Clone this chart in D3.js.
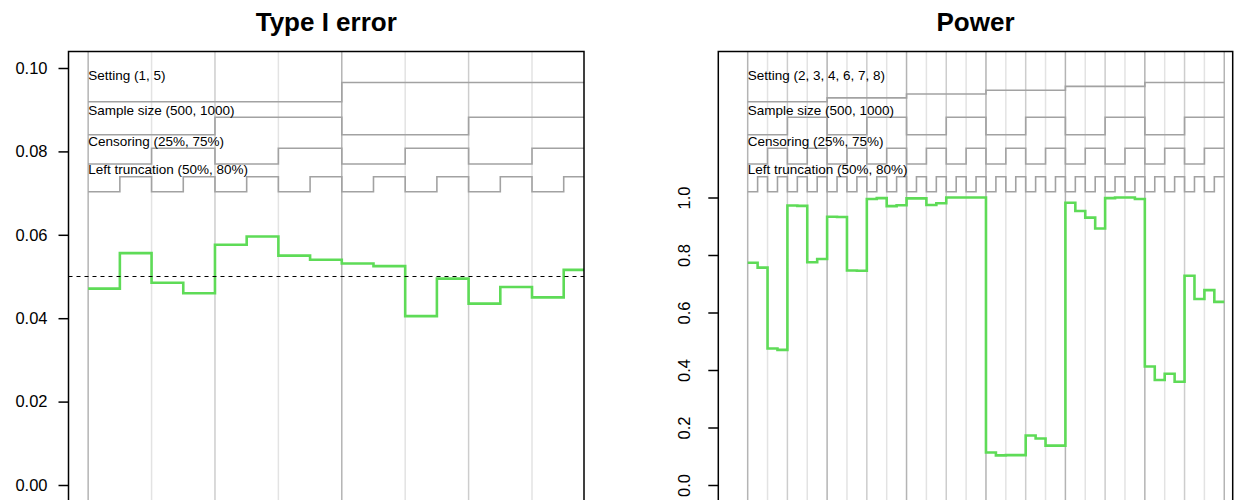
<!DOCTYPE html>
<html>
<head>
<meta charset="utf-8">
<script src="https://cdn.jsdelivr.net/npm/d3@7"></script>
<style>
  body { margin: 0; background: #fff; }
  svg { display: block; }
  text { font-family: "Liberation Sans", Arial, Helvetica, sans-serif; fill: #000; }
</style>
</head>
<body>
<svg id="chart" width="1235" height="500"></svg>
<script>
// Simulation factors, outermost to innermost
const settingsTypeI = ["1", "5"];
const settingsPower = ["2", "3", "4", "6", "7", "8"];
const sampleSizes = ["500", "1000"];
const censoring = ["25%", "75%"];
const leftTruncation = ["50%", "80%"];
const factorNames = ["Setting", "Sample size", "Censoring", "Left truncation"];

// Rejection rates per scenario (nested order of the factors above)
const typeIError = [
  0.0471, 0.0556, 0.0485, 0.0460, 0.0576, 0.0596, 0.0550, 0.0540,
  0.0531, 0.0525, 0.0405, 0.0495, 0.0435, 0.0475, 0.0450, 0.0516
];
const power = [
  0.773, 0.756, 0.475, 0.470, 0.972, 0.971, 0.775, 0.786,
  0.933, 0.932, 0.746, 0.745, 0.995, 0.998, 0.970, 0.973,
  0.997, 0.997, 0.974, 0.980, 1.000, 1.000, 1.000, 1.000,
  0.113, 0.103, 0.104, 0.104, 0.172, 0.162, 0.137, 0.137,
  0.982, 0.953, 0.930, 0.892, 0.998, 1.000, 1.000, 0.995,
  0.412, 0.365, 0.387, 0.359, 0.728, 0.647, 0.678, 0.637
];
const typeITicks = [0, 0.02, 0.04, 0.06, 0.08, 0.10];
const powerTicks = [0, 0.2, 0.4, 0.6, 0.8, 1.0];
const nominalLevel = 0.05;

// ---- layout ----
const plotTop = 51.5, plotBottom = 502;
const legendRows = [            // pixel band of each factor's step line
  { top: 82.5, bottom: 101.7 },
  { top: 117.3, bottom: 134.7 },
  { top: 148.3, bottom: 164 },
  { top: 176.7, bottom: 191.7 }
];
const gridColours = ["#b4b4b4", "#cdcdcd", "#e3e3e3"];
const lineGreen = "#5edb57";

const svg = d3.select("#chart");

function drawPanel(cfg) {
  const factors = [cfg.settings, sampleSizes, censoring, leftTruncation];
  const scenarios = d3.cross(...factors);
  const n = scenarios.length;
  const levelIdx = scenarios.map(s => s.map((v, k) => factors[k].indexOf(v)));

  const x = d3.scaleLinear().domain(cfg.xDomain).range([cfg.left, cfg.right]);
  const y = d3.scaleLinear().domain(cfg.yDomain).range(cfg.yRange);

  const g = svg.append("g");
  const clipId = "clip-" + cfg.id;
  svg.append("clipPath").attr("id", clipId)
    .append("rect")
    .attr("x", cfg.left).attr("y", plotTop)
    .attr("width", cfg.right - cfg.left).attr("height", plotBottom - plotTop);

  const inner = g.append("g").attr("clip-path", `url(#${clipId})`);

  // vertical separators where one of the three outer factors changes
  const seps = [];
  for (let s = 0; s <= n; s++) {
    let lvl = -1;
    if (s === 0 || s === n) lvl = 0;
    else {
      for (let k = 0; k < 3; k++) {
        if (levelIdx[s][k] !== levelIdx[s - 1][k]) { lvl = k; break; }
      }
    }
    if (lvl >= 0) seps.push({ pos: s + 1, lvl });
  }
  inner.selectAll("line.sep").data(seps).join("line")
    .attr("class", "sep")
    .attr("x1", d => x(d.pos)).attr("x2", d => x(d.pos))
    .attr("y1", plotTop).attr("y2", plotBottom)
    .attr("stroke", d => gridColours[d.lvl])
    .attr("stroke-width", 1.5);

  // nested step legend for the factors
  const step = d3.line().x(d => d[0]).y(d => d[1]).curve(d3.curveStepAfter);
  factors.forEach((levels, k) => {
    const row = legendRows[k];
    const yl = j => levels.length > 1
      ? row.bottom - j * (row.bottom - row.top) / (levels.length - 1)
      : row.bottom;
    const pts = levelIdx.map((li, i) => [x(i + 1), yl(li[k])]);
    pts.push([x(n + 1), yl(levelIdx[n - 1][k])]);
    inner.append("path")
      .attr("d", step(pts))
      .attr("fill", "none")
      .attr("stroke", "#a2a2a2")
      .attr("stroke-width", 1.6);
    g.append("text")
      .attr("x", x(1))
      .attr("y", row.top - 2.6)
      .attr("font-size", 13.5)
      .text(`${factorNames[k]} (${levels.join(", ")})`);
  });

  // performance measure as a step line
  const vals = cfg.values.map((v, i) => [x(i + 1), y(v)]);
  vals.push([x(n + 1), y(cfg.values[n - 1])]);
  inner.append("path")
    .attr("d", step(vals))
    .attr("fill", "none")
    .attr("stroke", lineGreen)
    .attr("stroke-width", 2.6)
    .attr("stroke-linejoin", "miter");

  if (cfg.reference != null) {
    inner.append("line")
      .attr("x1", cfg.left).attr("x2", cfg.right)
      .attr("y1", y(cfg.reference)).attr("y2", y(cfg.reference))
      .attr("stroke", "#000")
      .attr("stroke-width", 1.1)
      .attr("stroke-dasharray", "4,4");
  }

  // plot frame
  g.append("rect")
    .attr("x", cfg.left).attr("y", plotTop)
    .attr("width", cfg.right - cfg.left).attr("height", plotBottom - plotTop)
    .attr("fill", "none").attr("stroke", "#000").attr("stroke-width", 1.5);

  // y axis
  const axis = d3.axisLeft(y).tickValues(cfg.ticks).tickFormat(cfg.tickFormat)
    .tickSize(10).tickPadding(11);
  const ag = g.append("g").attr("transform", `translate(${cfg.left},0)`).call(axis);
  ag.select(".domain").remove();
  ag.selectAll(".tick line").attr("stroke", "#000").attr("stroke-width", 1.5);
  ag.selectAll(".tick text").attr("font-size", 16.5).attr("fill", "#000")
    .attr("font-family", "Liberation Sans, Arial, sans-serif");
  if (cfg.rotateLabels) {
    ag.selectAll(".tick text")
      .attr("x", null).attr("dy", null)
      .attr("text-anchor", "middle")
      .attr("transform", `translate(${-cfg.labelOffset},0) rotate(-90)`);
  }

  // title
  g.append("text")
    .attr("x", (cfg.left + cfg.right) / 2)
    .attr("y", 31)
    .attr("text-anchor", "middle")
    .attr("font-size", 26)
    .attr("font-weight", "bold")
    .text(cfg.title);
}

drawPanel({
  id: "typeI", title: "Type I error",
  settings: settingsTypeI, values: typeIError,
  left: 68.5, right: 584, xDomain: [0.38, 16.64],
  yDomain: [0, 0.10], yRange: [485, 68],
  ticks: typeITicks, tickFormat: d3.format(".2f"),
  rotateLabels: false, reference: nominalLevel
});

drawPanel({
  id: "power", title: "Power",
  settings: settingsPower, values: power,
  left: 718.3, right: 1232.7, xDomain: [-1.96, 49.85],
  yDomain: [0, 1], yRange: [485, 197.5],
  ticks: powerTicks, tickFormat: d3.format(".1f"),
  rotateLabels: true, labelOffset: 28.5, reference: null
});
</script>
</body>
</html>
